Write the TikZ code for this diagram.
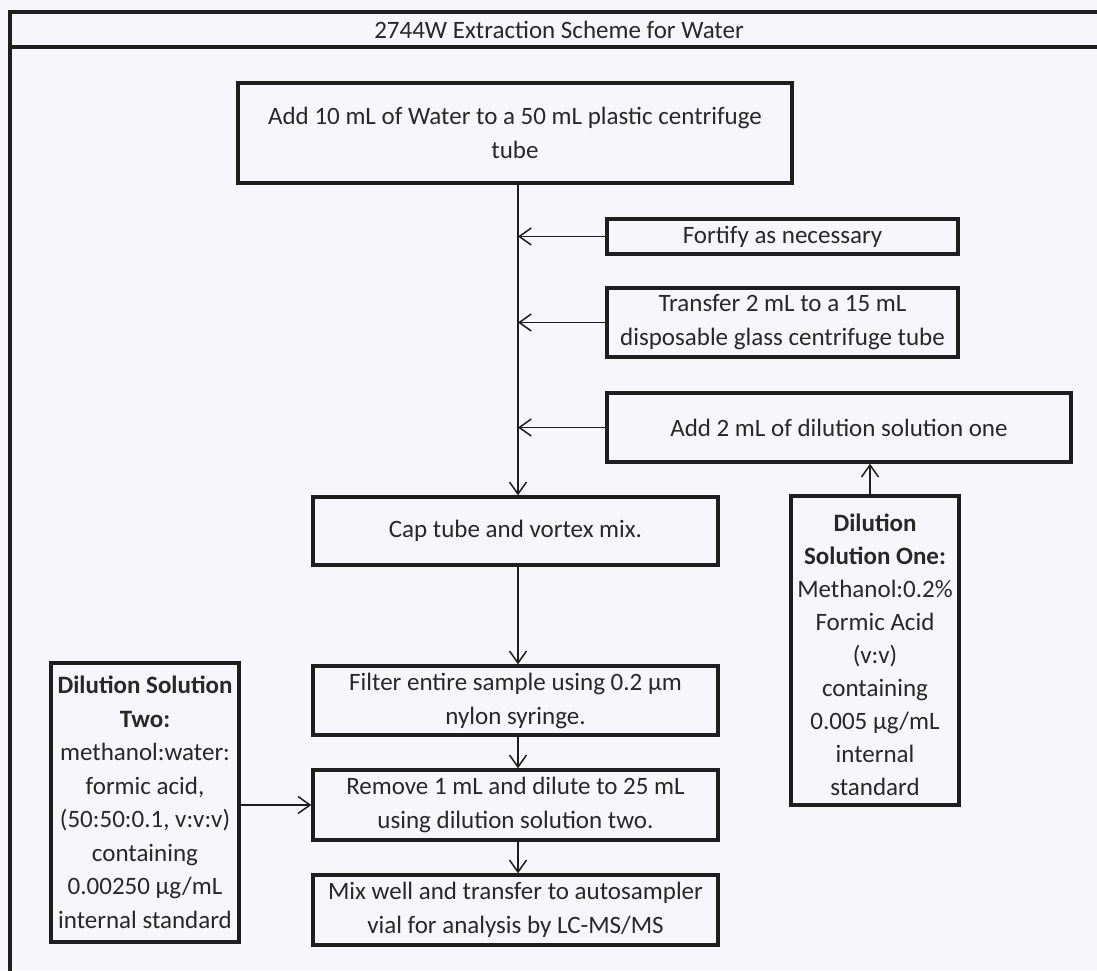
\documentclass[tikz,border=0pt]{standalone}
\usepackage{fontspec}
\setmainfont{Carlito}
\usetikzlibrary{arrows.meta}
\definecolor{bgc}{RGB}{246,246,251}
\definecolor{inkc}{RGB}{40,40,40}
\definecolor{linec}{RGB}{30,30,30}
\tikzset{
  stepbox/.style={draw=linec, line width=3.4pt, align=center, inner sep=0pt,
    font=\fontsize{25}{34}\selectfont, text=inkc},
  conn/.style={draw=linec, line width=1.5pt, -{Straight Barb[length=12pt,width=17pt,line width=1.5pt]}},
  framel/.style={draw=linec, line width=3.6pt}
}
\begin{document}
\begin{tikzpicture}[x=1pt,y=-1pt]
\useasboundingbox[fill=bgc] (0,0) rectangle (1097,970);
% frame
\coordinate (fbl) at (10,975);
\coordinate (ftl) at (10,12);
\coordinate (ftr) at (1100,12);
\coordinate (fml) at (10,47);
\coordinate (fmr) at (1100,47);
\draw[framel] (fbl) -- (ftl) -- (ftr);
\draw[framel] (fml) -- (fmr);
\node[font=\fontsize{25}{30}\selectfont, text=inkc] (title) at (559,30) {2744W Extraction Scheme for Water};
% main column coordinate
\coordinate (mx) at (518,0);
\coordinate (ax) at (870,0);
% boxes
\node[stepbox, minimum width=554pt, minimum height=100pt] (box1) at (515,133)
  {Add 10 mL of Water to a 50 mL plastic centrifuge\\tube};
\node[stepbox, minimum width=351pt, minimum height=35pt] (fort) at (782.5,236.5)
  {Fortify as necessary};
\node[stepbox, minimum width=351pt, minimum height=69pt] (trans) at (782.5,322.5)
  {Transfer 2 mL to a 15 mL\\disposable glass centrifuge tube};
\node[stepbox, minimum width=464pt, minimum height=69pt] (add2) at (839,427.5)
  {Add 2 mL of dilution solution one};
\node[stepbox, minimum width=168pt, minimum height=309pt,
  label={[anchor=center, yshift=-4pt, align=center, inner sep=0pt,
    font=\fontsize{25}{33}\selectfont, text=inkc]center:{\textbf{Dilution}\\\textbf{Solution One:}\\Methanol:0.2\%\\Formic Acid\\(v:v)\\containing\\0.005 µg/mL\\internal\\standard}}] (dil1) at (875,650.5) {};
\node[stepbox, minimum width=405pt, minimum height=68pt] (cap) at (515.5,531)
  {Cap tube and vortex mix.};
\node[stepbox, minimum width=405pt, minimum height=69pt] (filt) at (515.5,700.5)
  {Filter entire sample using 0.2 µm\\nylon syringe.};
\node[stepbox, minimum width=405pt, minimum height=70pt] (rem) at (515.5,805)
  {Remove 1 mL and dilute to 25 mL\\using dilution solution two.};
\node[stepbox, minimum width=405pt, minimum height=70pt] (mix) at (515.5,910)
  {Mix well and transfer to autosampler\\vial for analysis by LC-MS/MS};
\node[stepbox, minimum width=188pt, minimum height=279pt, font=\fontsize{25}{33.5}\selectfont] (dil2) at (145,802.5)
  {\textbf{Dilution Solution}\\\textbf{Two:}\\methanol:water:\\formic acid,\\(50:50:0.1, v:v:v)\\containing\\0.00250 µg/mL\\internal standard};
% connectors
\draw[conn] (box1.south -| mx) -- (cap.north -| mx);
\draw[conn] (fort.west) -- (fort.west -| mx);
\draw[conn] (trans.west) -- (trans.west -| mx);
\draw[conn] (add2.west) -- (add2.west -| mx);
\draw[conn] (dil1.north -| ax) -- (add2.south -| ax);
\draw[conn] (cap.south -| mx) -- (filt.north -| mx);
\draw[conn] (filt.south -| mx) -- (rem.north -| mx);
\draw[conn] (rem.south -| mx) -- (mix.north -| mx);
\draw[conn] (dil2.east |- rem.west) -- (rem.west);
\end{tikzpicture}
\end{document}
